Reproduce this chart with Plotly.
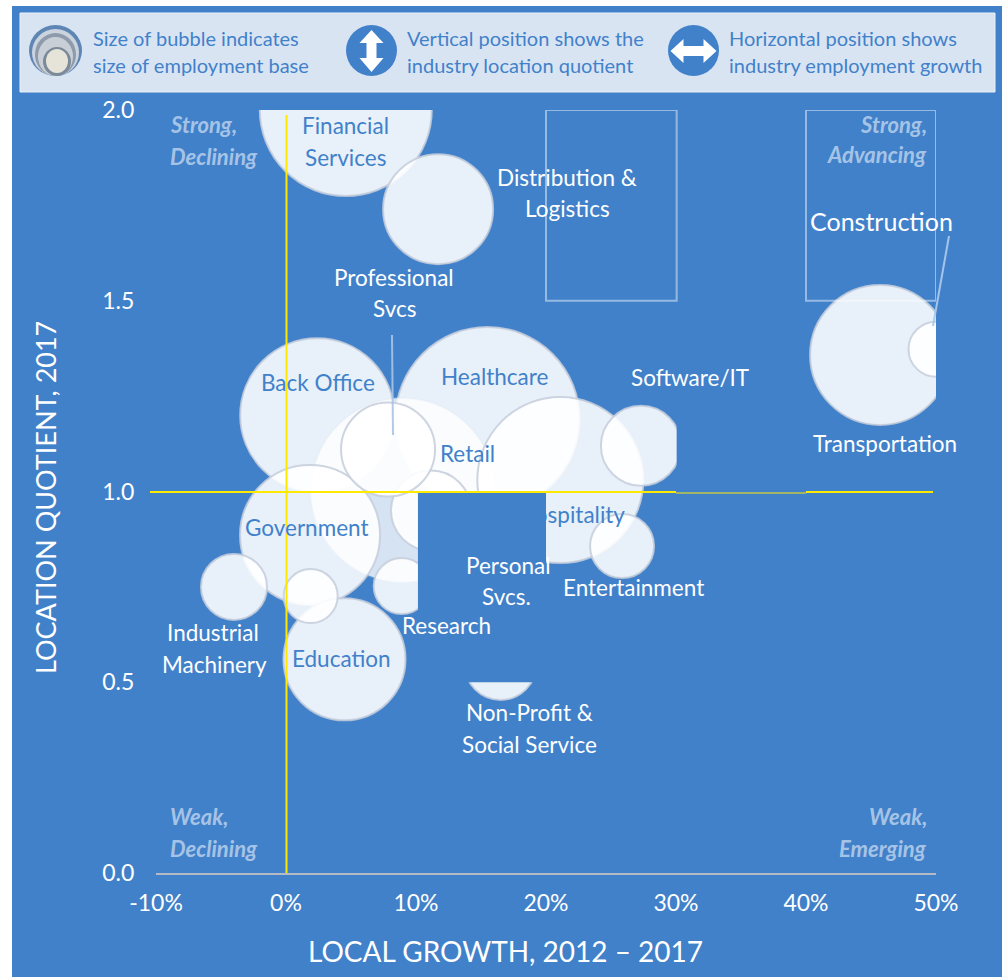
import plotly.graph_objects as go

# ---- data ----
industries = ["Financial Services", "Distribution & Logistics", "Back Office", "Healthcare", "Retail",
              "Hospitality", "Government", "Education", "Personal Svcs.", "Professional Svcs",
              "Software/IT", "Entertainment", "Industrial Machinery", "Other", "Research",
              "Non-Profit & Social Service", "Transportation", "Construction"]
growth = [4.6, 11.7, 2.4, 15.5, 9.0, 21.1, 1.85, 4.5, 11.15, 7.85, 27.3, 25.85, -4.0, 1.9, 8.9, 16.5, 45.7, 50.0]
quotient = [2.0, 1.74, 1.20, 1.19, 1.004, 1.03, 0.886, 0.56, 0.95, 1.11, 1.12, 0.857, 0.75, 0.726, 0.752, 0.548, 1.358, 1.373]
bubble_size = [172, 110, 154, 184, 184, 166, 140, 122, 80, 94, 80, 64, 66, 54, 56, 72, 140, 55]

x_ticks = [-10, 0, 10, 20, 30, 40, 50]
x_labels = ["-10%", "0%", "10%", "20%", "30%", "40%", "50%"]
y_ticks = [0, 0.5, 1.0, 1.5, 2.0]
y_labels = ["0.0", "0.5", "1.0", "1.5", "2.0"]

# ---- style ----
W, H = 1002, 977
L, R, T, B = 156, 936, 110, 873
BLUE = "#4181CA"
PANEL = "#D9E4F3"
FONT = "Lato"
YELLOW = "#FFE900"
FAINT = "rgba(255,255,255,0.45)"
QUAD = "rgba(255,255,255,0.55)"
EDGE = "rgba(198,206,220,0.85)"
px = lambda v: (v - L) / (R - L)
py = lambda v: (B - v) / (B - T)

edge_colors = ["rgba(225,232,242,0.35)" if n == "Retail" else EDGE for n in industries]
fill_colors = ["rgba(255,255,255,0.78)" if n == "Retail" else "rgba(255,255,255,0.88)" for n in industries]

fig = go.Figure(go.Scatter(
    x=growth, y=quotient, mode="markers", text=industries, cliponaxis=True,
    marker=dict(size=bubble_size, sizemode="diameter", sizeref=1, opacity=1,
                color=fill_colors,
                line=dict(color=edge_colors, width=2)),
    hoverinfo="text"))

shapes = []
def box(x0, y0, x1, y1, fill, line=None, layer="below", kind="rect", width=1):
    shapes.append(dict(type=kind, xref="paper", yref="paper", x0=px(x0), x1=px(x1), y0=py(y1), y1=py(y0),
                       fillcolor=fill, line=dict(color=line or "rgba(0,0,0,0)", width=width), layer=layer))

def path(points, fill):
    d = "M" + " L".join(f"{px(a):.5f},{py(b):.5f}" for a, b in points) + " Z"
    shapes.append(dict(type="path", xref="paper", yref="paper", path=d, fillcolor=fill,
                       line=dict(width=0), layer="above"))

def seg(x0, y0, x1, y1, color, width, layer="above"):
    shapes.append(dict(type="line", xref="paper", yref="paper", x0=px(x0), x1=px(x1), y0=py(y0), y1=py(y1),
                       line=dict(color=color, width=width), layer=layer))

# background panels
box(12, 6, W, H, BLUE)
box(20, 13, 995, 92, PANEL, "#EAF0F8", width=1)

# covers that hide parts of the bubbles, as in the reference
for xa, xb, ya, yb in [(10.15, 20, 0.5, 1.0), (30.05, 40, 1.0, 2.0)]:
    shapes.append(dict(type="rect", xref="x", yref="y", x0=xa, x1=xb, y0=ya, y1=yb,
                       fillcolor=BLUE, line=dict(width=0), layer="above"))

# open rectangles
for xa, xb in [(20, 30.05), (40, 50)]:
    shapes.append(dict(type="rect", xref="x", yref="y", x0=xa, x1=xb, y0=1.5, y1=2.0,
                       fillcolor="rgba(0,0,0,0)", line=dict(color=FAINT, width=2), layer="above"))

# quadrant lines
seg(150, 492, 676, 492, YELLOW, 2)
seg(676, 493, 806, 493, YELLOW, 1)
seg(806, 492, 933, 492, YELLOW, 2)
seg(286.5, 115, 286.5, 873, YELLOW, 2)

# leader lines
seg(392, 335, 393, 435, "rgba(170,195,228,0.9)", 2)
seg(949, 236, 933, 326, "rgba(170,200,235,0.95)", 2)

# legend icons
box(29, 25, 82, 76, "#5D86B5", layer="above", kind="circle")
box(32, 29, 79, 76, "#CBD3DE", layer="above", kind="circle")
box(35, 33, 76, 76, "#8E9BAA", layer="above", kind="circle")
box(38, 37, 73, 76, "#C9CFD6", layer="above", kind="circle")
box(43, 47, 71, 76, "#7B8A99", layer="above", kind="circle")
box(46, 49, 68, 73, "#E6E4D8", layer="above", kind="circle")

box(346, 25, 397, 76, BLUE, layer="above", kind="circle")
cx = 371.5
path([(cx, 30), (cx + 12, 43), (cx + 5, 43), (cx + 5, 58), (cx + 12, 58), (cx, 72),
      (cx - 12, 58), (cx - 5, 58), (cx - 5, 43), (cx - 12, 43)], "white")

box(668, 25, 719, 76, BLUE, layer="above", kind="circle")
cx, cy = 693.5, 51
path([(cx - 23, cy), (cx - 10, cy - 12), (cx - 10, cy - 5), (cx + 10, cy - 5), (cx + 10, cy - 12), (cx + 23, cy),
      (cx + 10, cy + 12), (cx + 10, cy + 5), (cx - 10, cy + 5), (cx - 10, cy + 12)], "white")

notes = []
def page_text(text, x, y, size, color, anchor="left", angle=0, bold=False, italic=False):
    t = f"<b>{text}</b>" if bold else text
    t = f"<i>{t}</i>" if italic else t
    notes.append(dict(xref="paper", yref="paper", x=px(x), y=py(y), text=t, showarrow=False,
                      xanchor=anchor, yanchor="middle", textangle=angle,
                      font=dict(family=FONT, size=size, color=color)))

# labels tied to each bubble: offsets of each text line from the bubble centre
label_lines = {
    "Financial Services": [("Financial", 0, 15, BLUE), ("Services", 0, 47, BLUE)],
    "Distribution & Logistics": [("Distribution &", 129, -32, "white"), ("Logistics", 129, -1, "white")],
    "Back Office": [("Back Office", 1, -33, BLUE)],
    "Healthcare": [("Healthcare", 7, -43, BLUE)],
    "Retail": [("Retail", 64, -36, BLUE)],
    "Hospitality": [("Hospitality", 11, 34, BLUE)],
    "Government": [("Government", -3, -7, BLUE)],
    "Education": [("Education", -3, -1, BLUE)],
    "Personal Svcs.": [("Personal", 77, 55, "white"), ("Svcs.", 76, 86, "white")],
    "Professional Svcs": [("Professional", 6, -172, "white"), ("Svcs", 6, -141, "white")],
    "Software/IT": [("Software/IT", 49, -68, "white")],
    "Entertainment": [("Entertainment", 11, 41, "white")],
    "Industrial Machinery": [("Industrial", -21, 46, "white"), ("Machinery", -20, 78, "white")],
    "Research": [("Research", 45, 39, "white")],
    "Non-Profit & Social Service": [("Non-Profit &", 29, 49, "white"), ("Social Service", 29, 81, "white")],
    "Transportation": [("Transportation", 5, 89, "white")],
    "Construction": [("Construction", -55, -128, "white")],
}
for name, lines in label_lines.items():
    i = industries.index(name)
    for text, dx, dy, color in lines:
        notes.append(dict(x=growth[i], y=quotient[i], xref="x", yref="y", text=text, showarrow=False,
                          xshift=dx, yshift=-dy, xanchor="center", yanchor="middle",
                          font=dict(family=FONT, size=25 if name == "Construction" else 22.5, color=color)))

# quadrant captions
for text, x, y, anchor in [("Strong,", 168, 124, "left"), ("Declining", 168, 156, "left"),
                           ("Strong,", 929, 124, "right"), ("Advancing", 929, 155, "right"),
                           ("Weak,", 168, 816, "left"), ("Declining", 168, 848, "left"),
                           ("Weak,", 929, 816, "right"), ("Emerging", 929, 848, "right")]:
    page_text(text, x, y, 22, QUAD, anchor, bold=True, italic=True)

# legend text
for text, x, y in [("Size of bubble indicates", 91, 38), ("size of employment base", 91, 65),
                   ("Vertical position shows the", 405, 38), ("industry location quotient", 405, 65),
                   ("Horizontal position shows", 727, 38), ("industry employment growth", 727, 65)]:
    page_text(text, x, y, 20, BLUE)

# axis titles
page_text("LOCAL GROWTH, 2012 – 2017", 505, 951, 28, "white", "center")
page_text("LOCATION QUOTIENT, 2017", 46, 498, 27, "white", "center", angle=-90)

fig.update_layout(
    width=W, height=H, autosize=False, margin=dict(l=L, r=W - R, t=T, b=H - B),
    paper_bgcolor="white", plot_bgcolor="rgba(0,0,0,0)", showlegend=False,
    shapes=shapes, annotations=notes,
    font=dict(family=FONT, color="white", size=21),
    xaxis=dict(range=[-10, 50], tickvals=x_ticks, ticktext=x_labels, showgrid=False, zeroline=False,
               showline=True, linecolor="#B5BAC4", linewidth=2,
               ticks="outside", ticklen=8, tickcolor="rgba(0,0,0,0)",
               tickfont=dict(family=FONT, size=23, color="white")),
    yaxis=dict(range=[0, 2], tickvals=y_ticks, ticktext=y_labels, showgrid=False, zeroline=False,
               showline=False, ticks="outside", ticklen=16, tickcolor="rgba(0,0,0,0)",
               tickfont=dict(family=FONT, size=23, color="white")),
)

fig.write_html("out.html", config=dict(displayModeBar=False),
               post_script="document.body.style.margin='0';document.body.style.overflow='hidden';")
